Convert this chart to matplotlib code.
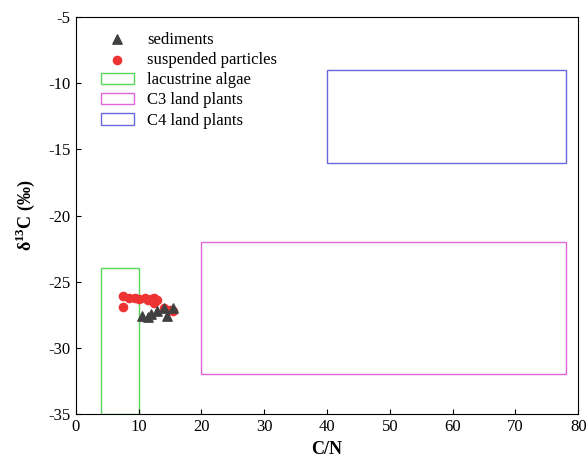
import matplotlib.pyplot as plt
from matplotlib.patches import Rectangle

plt.rcParams['font.family'] = ['Liberation Serif', 'DejaVu Serif']
plt.rcParams['axes.unicode_minus'] = False
plt.rcParams['mathtext.fontset'] = 'custom'
plt.rcParams['mathtext.rm'] = 'Liberation Serif'
plt.rcParams['mathtext.bf'] = 'Liberation Serif:bold'

# sediments (triangles)
sed_cn = [10.5, 11.5, 12.0, 13.0, 14.0, 14.5, 15.5]
sed_d13c = [-27.6, -27.7, -27.4, -27.2, -27.0, -27.6, -27.0]

# suspended particles (circles)
sp_cn = [7.5, 8.5, 9.5, 10.0, 11.0, 11.5, 12.0, 12.5, 12.5, 13.0, 7.5, 14.0, 15.0, 15.5]
sp_d13c = [-26.1, -26.2, -26.2, -26.3, -26.2, -26.4, -26.3, -26.2, -26.6, -26.4, -26.9, -27.0, -27.1, -27.2]

# source boxes
box_labels = ['lacustrine algae', 'C3 land plants', 'C4 land plants']
box_x = [(4, 10), (20, 78), (40, 78)]
box_y = [(-35, -24), (-32, -22), (-16, -9)]
box_colors = ['#5ad65a', '#e066e0', '#6666dd']

fig = plt.figure(figsize=(5.87, 4.68), dpi=100)
ax = fig.add_axes([0.129, 0.115, 0.856, 0.849])

handles = []
for lab, (x0, x1), (y0, y1), c in zip(box_labels, box_x, box_y, box_colors):
    r = Rectangle((x0, y0), x1 - x0, y1 - y0, fill=False, edgecolor=c, lw=1.0, label=lab)
    ax.add_patch(r)
    handles.append(r)

h1 = ax.scatter(sed_cn, sed_d13c, marker='^', s=45, color='#404040', label='sediments', zorder=3)
h2 = ax.scatter(sp_cn, sp_d13c, marker='o', s=35, color='#ee3333', label='suspended particles', zorder=2)

ax.set_xlim(0, 80)
ax.set_ylim(-35, -5)
ax.set_xticks(range(0, 81, 10))
ax.set_yticks(range(-35, -4, 5))
ax.tick_params(direction='in', labelsize=12)
ax.set_xlabel('C/N', fontsize=13, fontweight='bold', labelpad=4)
ax.set_ylabel(r'δ$^{\mathbf{13}}$C (‰)', fontsize=13, fontweight='bold', labelpad=8)

ax.legend(handles=[h1, h2] + handles, loc='upper left', frameon=False, fontsize=12,
          bbox_to_anchor=(0.02, 1.0), handlelength=2.0, labelspacing=0.25)

fig.savefig('out.png', dpi=100)
